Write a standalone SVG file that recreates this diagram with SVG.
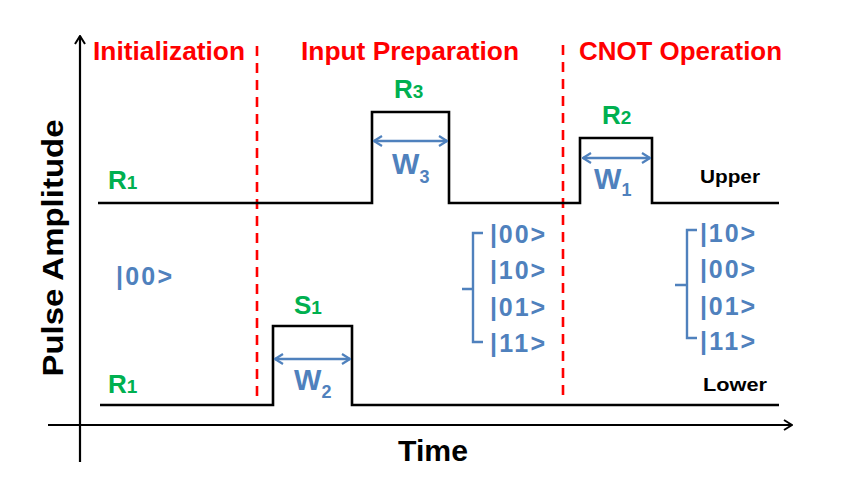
<svg xmlns="http://www.w3.org/2000/svg" width="845" height="477" viewBox="0 0 845 477">
<defs>
<style>
.ax{fill:none;stroke:#000;stroke-width:2.2}
.pulse{fill:none;stroke:#000;stroke-width:2.6;stroke-linejoin:miter}
.div{fill:none;stroke:#ff0000;stroke-width:2.6;stroke-dasharray:10,7}
.warr{fill:none;stroke:#4f81bd;stroke-width:2.5}
.br{fill:none;stroke:#4f81bd;stroke-width:2.4}
.t{font-family:"Liberation Sans",Arial,sans-serif;font-weight:bold}
.red{fill:#ff0000;font-size:25px}
.grn{fill:#00b050;font-size:26px}
.gsub{font-size:19px}
.blu{fill:#4f81bd;font-size:29px}
.bsub{font-size:18px}
.ket{fill:#4f81bd;font-size:25px}
.blk{fill:#000}
</style>
<marker id="ah" viewBox="0 0 12 12" refX="11" refY="6" markerWidth="12" markerHeight="12" markerUnits="userSpaceOnUse" orient="auto-start-reverse">
<path d="M3,1 L11,6 L3,11" fill="none" stroke="#000" stroke-width="2"/>
</marker>
<marker id="bh" viewBox="0 0 12 12" refX="11" refY="6" markerWidth="12" markerHeight="12" markerUnits="userSpaceOnUse" orient="auto-start-reverse">
<path d="M3,1 L11,6 L3,11" fill="none" stroke="#4f81bd" stroke-width="2.2"/>
</marker>
</defs>
<rect width="845" height="477" fill="#fff"/>

<g id="axes">
<line class="ax" x1="80" y1="462" x2="80" y2="36" marker-end="url(#ah)"/>
<line class="ax" x1="48" y1="425" x2="792" y2="425" marker-end="url(#ah)"/>
<text class="t blk" font-size="29" transform="translate(63,248) rotate(-90)" text-anchor="middle" textLength="257" lengthAdjust="spacingAndGlyphs">Pulse Amplitude</text>
<text class="t blk" x="398" y="461" font-size="29" textLength="70" lengthAdjust="spacingAndGlyphs">Time</text>
</g>

<g id="dividers">
<line class="div" x1="257" y1="46" x2="257" y2="400"/>
<line class="div" x1="563" y1="45" x2="563" y2="400"/>
</g>

<g id="phase-labels">
<text class="t red" x="93" y="60" textLength="152" lengthAdjust="spacingAndGlyphs">Initialization</text>
<text class="t red" x="301" y="60" textLength="218" lengthAdjust="spacingAndGlyphs">Input Preparation</text>
<text class="t red" x="579" y="60" textLength="203" lengthAdjust="spacingAndGlyphs">CNOT Operation</text>
</g>

<g id="upper-pulse">
<path class="pulse" d="M98,203 H372 V112 H449 V203 H580 V138 H652 V203 H779"/>
<text class="t blk" x="700" y="183" font-size="19" textLength="60" lengthAdjust="spacingAndGlyphs">Upper</text>
<text class="t grn" x="108" y="189">R<tspan class="gsub">1</tspan></text>
<text class="t grn" x="394" y="98">R<tspan class="gsub">3</tspan></text>
<text class="t grn" x="602" y="124">R<tspan class="gsub">2</tspan></text>
</g>

<g id="lower-pulse">
<path class="pulse" d="M100,405 H273 V326 H352 V405 H779"/>
<text class="t blk" x="703" y="391" font-size="19" textLength="64" lengthAdjust="spacingAndGlyphs">Lower</text>
<text class="t grn" x="108" y="393">R<tspan class="gsub">1</tspan></text>
<text class="t grn" x="294" y="314">S<tspan class="gsub">1</tspan></text>
</g>

<g id="widths">
<line class="warr" x1="374" y1="141" x2="447" y2="141" marker-start="url(#bh)" marker-end="url(#bh)"/>
<text class="t blu" x="392" y="174">W<tspan class="bsub" dy="9">3</tspan></text>
<line class="warr" x1="583" y1="158" x2="650" y2="158" marker-start="url(#bh)" marker-end="url(#bh)"/>
<text class="t blu" x="594" y="189">W<tspan class="bsub" dy="7">1</tspan></text>
<line class="warr" x1="275" y1="359" x2="350" y2="359" marker-start="url(#bh)" marker-end="url(#bh)"/>
<text class="t blu" x="294" y="390">W<tspan class="bsub" dy="8">2</tspan></text>
</g>

<g id="init-state">
<text class="t ket" x="116" y="285" textLength="56" lengthAdjust="spacing">|00&gt;</text>
</g>

<g id="input-states">
<path class="br" d="M483,233 H473 V342 H483 M473,289 H462"/>
<text class="t ket" x="490" y="243" textLength="55" lengthAdjust="spacing">|00&gt;</text>
<text class="t ket" x="490" y="279" textLength="55" lengthAdjust="spacing">|10&gt;</text>
<text class="t ket" x="490" y="316" textLength="55" lengthAdjust="spacing">|01&gt;</text>
<text class="t ket" x="490" y="352" textLength="55" lengthAdjust="spacing">|11&gt;</text>
</g>

<g id="output-states">
<path class="br" d="M697,230 H687 V338 H697 M687,285 H675"/>
<text class="t ket" x="700" y="242" textLength="55" lengthAdjust="spacing">|10&gt;</text>
<text class="t ket" x="700" y="278" textLength="55" lengthAdjust="spacing">|00&gt;</text>
<text class="t ket" x="700" y="315" textLength="55" lengthAdjust="spacing">|01&gt;</text>
<text class="t ket" x="700" y="350" textLength="55" lengthAdjust="spacing">|11&gt;</text>
</g>
</svg>
